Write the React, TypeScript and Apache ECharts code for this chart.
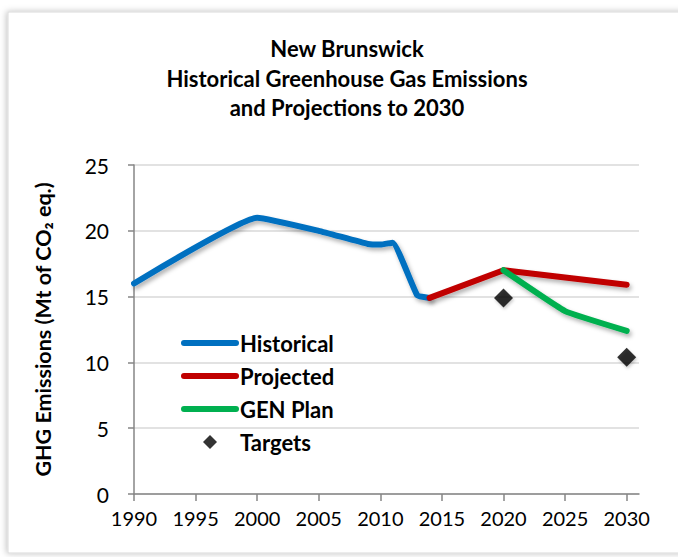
import React, { useEffect, useRef } from "react";
import * as echarts from "echarts";

const titleLines = ["New Brunswick", "Historical Greenhouse Gas Emissions", "and Projections to 2030"];
const yAxisName = "GHG Emissions (Mt of CO₂ eq.)";

const histYears = [1990, 2000, 2005, 2009, 2010, 2011, 2013, 2014];
const histValues = [16.0, 21.0, 20.0, 19.0, 18.95, 19.1, 15.1, 14.9];

const projYears = [2014, 2020, 2030];
const projValues = [14.9, 17.0, 15.9];

const genYears = [2020, 2025, 2030];
const genValues = [17.0, 13.9, 12.4];

const targetYears = [2020, 2030];
const targetValues = [14.9, 10.4];

const FONT = "Lato";

const pairs = (xs: number[], ys: number[]) => xs.map((x, i) => [x, ys[i]]);

const shadow = {
  shadowColor: "rgba(0,0,0,0.3)",
  shadowBlur: 4,
  shadowOffsetX: 2,
  shadowOffsetY: 3,
};

const LINE_ICON = "path://M3,0 L55,0 A3,3 0 0 1 55,6 L3,6 A3,3 0 0 1 3,0 Z";
const DIAMOND_ICON = "path://M6,0 L12,6 L6,12 L0,6 Z";

export default function App() {
  const ref = useRef<HTMLDivElement>(null);
  useEffect(() => {
    if (!ref.current) return;
    const chart = echarts.init(ref.current, null, { renderer: "svg" });
    const lineSeries = (name: string, xs: number[], ys: number[], color: string, smooth: number) => ({
      name,
      type: "line",
      data: pairs(xs, ys),
      smooth,
      symbol: "none",
      showSymbol: false,
      lineStyle: { color, width: 6, cap: "round", join: "round", ...shadow },
      itemStyle: { color },
      z: 3,
    });
    chart.setOption({
      animation: false,
      backgroundColor: "#fff",
      graphic: [
        {
          type: "rect",
          shape: { x: 8, y: 12, width: 700, height: 541 },
          style: {
            fill: "#fff",
            stroke: "#d9d9d9",
            lineWidth: 1,
            shadowBlur: 6,
            shadowColor: "rgba(0,0,0,0.25)",
            shadowOffsetX: -1,
            shadowOffsetY: 0,
          },
          z: -10,
          silent: true,
        },
      ],
      title: {
        text: titleLines.join("\n"),
        left: 342,
        top: 29,
        textAlign: "center",
        textStyle: {
          fontFamily: FONT,
          fontWeight: "bold",
          fontSize: 22,
          lineHeight: 29.5,
          color: "#000",
        },
      },
      grid: { left: 134, right: 39, top: 165, bottom: 63 },
      legend: {
        orient: "vertical",
        left: 176,
        top: 327,
        itemWidth: 58,
        itemHeight: 14,
        itemGap: 11,
        symbolKeepAspect: true,
        textStyle: { fontFamily: FONT, fontWeight: "bold", fontSize: 22, color: "#000", padding: [0, 0, 0, -4] },
        data: [
          { name: "Historical", icon: LINE_ICON },
          { name: "Projected", icon: LINE_ICON },
          { name: "GEN Plan", icon: LINE_ICON },
          { name: "Targets", icon: DIAMOND_ICON },
        ],
      },
      xAxis: {
        type: "value",
        min: 1990,
        max: 2031,
        interval: 5,
        axisLine: { show: true, lineStyle: { color: "#868686", width: 1.5 } },
        axisTick: { show: true, length: 7, lineStyle: { color: "#868686", width: 1.5 } },
        splitLine: { show: false },
        axisLabel: {
          fontFamily: FONT,
          fontSize: 20,
          color: "#000",
          margin: 14,
          showMaxLabel: false,
          formatter: (v: number) => (v % 5 === 0 ? String(v) : ""),
        },
      },
      yAxis: {
        type: "value",
        min: 0,
        max: 25,
        interval: 5,
        name: yAxisName,
        nameLocation: "middle",
        nameGap: 68,
        nameTextStyle: {
          fontFamily: FONT,
          fontWeight: "bold",
          fontSize: 21.5,
          color: "#000",
          padding: [0, 0, 12, 0],
        },
        axisLine: { show: true, lineStyle: { color: "#868686", width: 1.5 } },
        axisTick: { show: true, length: 6, lineStyle: { color: "#868686", width: 1.5 } },
        splitLine: { show: true, lineStyle: { color: "#d9d9d9", width: 1.5 } },
        axisLabel: { fontFamily: FONT, fontSize: 21, color: "#000", margin: 25 },
      },
      series: [
        lineSeries("Historical", histYears, histValues, "#0070C0", 0.12),
        lineSeries("Projected", projYears, projValues, "#C00000", 0),
        lineSeries("GEN Plan", genYears, genValues, "#00B050", 0.1),
        {
          name: "Targets",
          type: "scatter",
          data: pairs(targetYears, targetValues),
          symbol: "diamond",
          symbolSize: 19,
          itemStyle: { color: "#000", shadowBlur: 3, shadowOffsetX: 1, shadowOffsetY: 2, shadowColor: "rgba(0,0,0,0.25)" },
          z: 4,
        },
      ],
    });
    return () => chart.dispose();
  }, []);
  return (
    <div
      ref={ref}
      style={{ position: "absolute", left: 0, top: 0, width: 678, height: 557 }}
    />
  );
}
